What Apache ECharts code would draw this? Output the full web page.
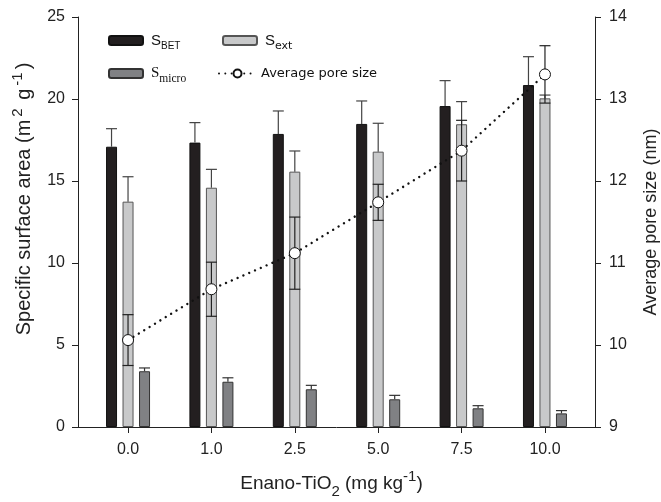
<!DOCTYPE html>
<html><head><meta charset="utf-8">
<script src="https://cdn.jsdelivr.net/npm/echarts@6/dist/echarts.min.js"></script>
<style>html,body{margin:0;padding:0;background:#fff}#c{width:661px;height:502px}</style>
</head><body><div id="c"></div>
<script>
// ---- data ----
const categories = ['0.0', '1.0', '2.5', '5.0', '7.5', '10.0'];
const sBET      = [17.09, 17.34, 17.87, 18.48, 19.57, 20.85];
const sBETErr   = [1.10, 1.22, 1.40, 1.40, 1.55, 1.73];
const sExt      = [13.74, 14.59, 15.57, 16.79, 18.46, 20.04];
const sExtErr   = [1.52, 1.12, 1.26, 1.73, 1.38, 0.20];
const sMicro    = [3.40, 2.76, 2.30, 1.69, 1.14, 0.83];
const sMicroErr = [0.20, 0.24, 0.24, 0.24, 0.16, 0.17];
const poreSize  = [10.06, 10.68, 11.12, 11.74, 12.37, 13.30];
const poreErr   = [0.31, 0.33, 0.44, 0.22, 0.37, 0.35];
const leftTicks = [0, 25, 5];   // min, max, interval
const rightTicks = [9, 14, 1];

const FONT = 'Liberation Sans, Arial, sans-serif';
const chart = echarts.init(document.getElementById('c'), null, {renderer: 'canvas'});

const idx = categories.map((c, i) => i);
const barData = arr => idx.map(i => [i, arr[i]]);
const upErr = (v, e) => idx.map(i => [i, v[i], v[i] + e[i]]);
const symErr = (v, e) => idx.map(i => [i, v[i] - e[i], v[i] + e[i]]);

function errRender(offsetPx, bothCaps, color) {
  return function (params, api) {
    const x = api.value(0), lo = api.value(1), hi = api.value(2);
    const p1 = api.coord([x, lo]), p2 = api.coord([x, hi]);
    const cx = p1[0] + offsetPx, hw = 5.5;
    const st = {stroke: color, lineWidth: 1.2};
    const ch = [
      {type: 'line', shape: {x1: cx, y1: p1[1], x2: cx, y2: p2[1]}, style: st},
      {type: 'line', shape: {x1: cx - hw, y1: p2[1], x2: cx + hw, y2: p2[1]}, style: st}
    ];
    if (bothCaps) ch.push({type: 'line', shape: {x1: cx - hw, y1: p1[1], x2: cx + hw, y2: p1[1]}, style: st});
    return {type: 'group', children: ch};
  };
}

const subRich = {
  s: {fontFamily: FONT, fontSize: 15, color: '#111', lineHeight: 22, padding: [0, 0, 0, 3]},
  sub: {fontFamily: FONT, fontSize: 10, color: '#111', lineHeight: 22, verticalAlign: 'bottom'},
  ss: {fontFamily: 'Liberation Serif, Times New Roman, serif', fontSize: 15, color: '#111', lineHeight: 22, padding: [0, 0, 0, 3]},
  subs: {fontFamily: 'Liberation Serif, Times New Roman, serif', fontSize: 11.5, color: '#111', lineHeight: 22, verticalAlign: 'bottom'},
  subv: {fontFamily: 'DejaVu Sans, sans-serif', fontSize: 11, color: '#111', lineHeight: 22, verticalAlign: 'bottom'}
};

const legendBase = {itemWidth: 34, itemHeight: 9, itemGap: 0, padding: 0, selectedMode: false,
  textStyle: {rich: subRich}};

const option = {
  backgroundColor: '#fff',
  animation: false,
  grid: {left: 78, right: 66, top: 17, bottom: 75, containLabel: false, outerBoundsMode: 'none'},
  legend: [
    Object.assign({}, legendBase, {left: 108, top: 33, data: ['SBET'], formatter: () => '{s|S}{sub|BET}'}),
    Object.assign({}, legendBase, {left: 222, top: 33, data: ['Sext'], formatter: () => '{s|S}{subv|ext}'}),
    Object.assign({}, legendBase, {left: 108, top: 66, data: ['Smicro'], formatter: () => '{ss|S}{subs|micro}'}),
    Object.assign({}, legendBase, {left: 218, top: 67, itemWidth: 37, itemHeight: 10, data: ['Average pore size'],
      textStyle: {fontFamily: 'DejaVu Sans, sans-serif', fontSize: 13, color: '#111'}})
  ],
  xAxis: {
    type: 'value', min: -0.6, max: 5.6,
    name: 'Enano-TiO{sub|2} (mg kg{sup|-1})',
    nameLocation: 'middle', nameGap: 42,
    nameTextStyle: {fontFamily: FONT, fontSize: 19, color: '#222', padding: [0, 10, 0, 0],
      rich: {
        sub: {fontFamily: FONT, fontSize: 15, color: '#222', lineHeight: 30, verticalAlign: 'bottom'},
        sup: {fontFamily: FONT, fontSize: 15, color: '#222', lineHeight: 30, verticalAlign: 'top'}
      }},
    axisLine: {show: true, onZero: false, lineStyle: {color: '#222', width: 1}},
    axisTick: {show: true, customValues: idx, length: 6, lineStyle: {color: '#222'}},
    axisLabel: {customValues: idx, margin: 15, fontFamily: FONT, fontSize: 16, color: '#222',
      formatter: v => categories[Math.round(v)]},
    splitLine: {show: false}
  },
  yAxis: [
    {
      type: 'value', min: leftTicks[0], max: leftTicks[1], interval: leftTicks[2],
      name: 'Specific surface area (m{sup|2} g{sup|-1})',
      nameLocation: 'middle', nameGap: 40,
      nameTextStyle: {fontFamily: FONT, fontSize: 20, color: '#222', padding: [0, 0, 0, 46],
        rich: {sup: {fontFamily: FONT, fontSize: 15, color: '#222', lineHeight: 28, verticalAlign: 'top', padding: [0, 3, 0, 3]}}},
      axisLine: {show: true, onZero: false, lineStyle: {color: '#222', width: 1}},
      axisTick: {show: true, length: 6, lineStyle: {color: '#222'}},
      axisLabel: {margin: 13, fontFamily: FONT, fontSize: 16, color: '#222'},
      splitLine: {show: false}
    },
    {
      type: 'value', position: 'right', min: rightTicks[0], max: rightTicks[1], interval: rightTicks[2],
      name: 'Average pore size (nm)',
      nameLocation: 'middle', nameGap: 47, nameRotate: 90,
      nameTextStyle: {fontFamily: FONT, fontSize: 18, color: '#222'},
      axisLine: {show: true, onZero: false, lineStyle: {color: '#222', width: 1}},
      axisTick: {show: true, length: 6, lineStyle: {color: '#222'}},
      axisLabel: {margin: 14, fontFamily: FONT, fontSize: 16, color: '#222'},
      splitLine: {show: false}
    }
  ],
  series: [
    {name: 'SBET', type: 'bar', data: barData(sBET), barWidth: 11, barGap: '50%', z: 2,
      itemStyle: {color: '#231f20', borderColor: '#111', borderWidth: 1}},
    {name: 'Sext', type: 'bar', data: barData(sExt), barWidth: 11, barGap: '50%', z: 2,
      itemStyle: {color: '#c8c9ca', borderColor: '#555', borderWidth: 1}},
    {name: 'Smicro', type: 'bar', data: barData(sMicro), barWidth: 11, barGap: '50%', z: 2,
      itemStyle: {color: '#808184', borderColor: '#333', borderWidth: 1}},
    {type: 'custom', name: 'eBET', data: upErr(sBET, sBETErr), renderItem: errRender(-16.5, false, '#444'), z: 3, silent: true},
    {type: 'custom', name: 'eExt', data: upErr(sExt, sExtErr), renderItem: errRender(0, false, '#444'), z: 3, silent: true},
    {type: 'custom', name: 'eMicro', data: upErr(sMicro, sMicroErr), renderItem: errRender(16.5, false, '#333'), z: 3, silent: true},
    {type: 'custom', name: 'ePore', yAxisIndex: 1, data: symErr(poreSize, poreErr), renderItem: errRender(0, true, '#222'), z: 4, silent: true},
    {name: 'Average pore size', type: 'line', yAxisIndex: 1, data: barData(poreSize), z: 5,
      symbol: 'circle', symbolSize: 11, showSymbol: true,
      lineStyle: {color: '#111', width: 2.4, type: [0.01, 6.3], cap: 'round'},
      itemStyle: {color: '#fff', borderColor: '#111', borderWidth: 1}}
  ]
};
chart.setOption(option);
</script>
</body></html>
